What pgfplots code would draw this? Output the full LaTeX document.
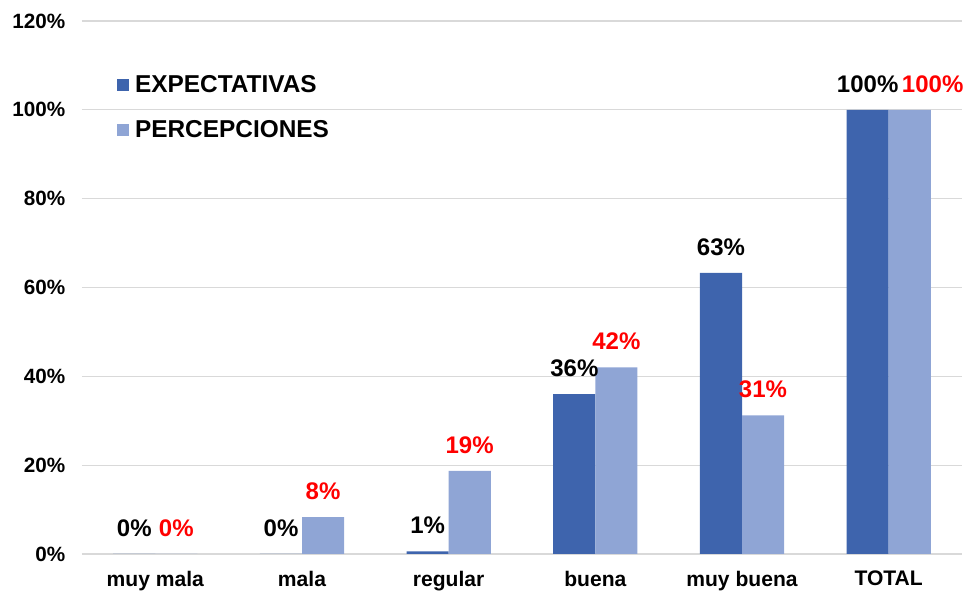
\documentclass[border=0pt]{standalone}
\usepackage{fontspec}
\setmainfont{Liberation Sans}
\usepackage{pgfplots}
\usepackage{pgfplotstable}
\pgfplotsset{compat=1.18}
\definecolor{expc}{HTML}{3E64AD}
\definecolor{perc}{HTML}{8FA5D5}
\definecolor{gridc}{HTML}{D9D9D9}
\definecolor{redlab}{HTML}{FF0000}

\pgfplotstableread{
x y lab sh
0 0 0 -15.75
1 0 0 -15.75
2 0.6 1 -15.75
3 36.0 36 -15.75
4 63.3 63 -15.75
5 100 100 -15.75
}\exptab
\pgfplotstableread{
x y lab sh
0 0 0 15.75
1 8.3 8 15.75
2 18.7 19 15.75
3 42.0 42 15.75
4 31.2 31 15.75
5 100 100 33
}\pertab

\begin{document}
\begin{tikzpicture}
\useasboundingbox (-61.5pt,-27.75pt) rectangle (661.5pt,415.5pt);
\begin{axis}[
  at={(0,0)}, anchor=south west, scale only axis,
  width=660pt, height=399.75pt,
  xmin=-0.5, xmax=5.5, ymin=0, ymax=120,
  xtick={0,...,5},
  xticklabels={muy mala,mala,regular,buena,muy buena,TOTAL},
  ytick={0,20,...,120},
  yticklabels={0\%,20\%,40\%,60\%,80\%,100\%,120\%},
  ymajorgrids, grid style={gridc, line width=0.9pt},
  axis line style={draw=none},
  major tick length=0pt,
  tick label style={font=\bfseries\fontsize{15.5}{17}\selectfont},
  yticklabel style={xshift=-9pt},
  xticklabel style={inner sep=0pt, yshift=-12.5pt, font=\bfseries\fontsize{15.8}{17}\selectfont},
  legend style={at={(0.035,0.909)}, anchor=north west, draw=none, fill=none,
    font=\bfseries\fontsize{18.3}{20}\selectfont, row sep=16pt,
    legend cell align=left,
    nodes={inner xsep=4.5pt}},
  legend image code/.code={\fill (0pt,-4.5pt) rectangle (9pt,4.5pt);},
  point meta=explicit symbolic,
  nodes near coords={\pgfplotspointmeta\%},
  every node near coord/.append style={font=\bfseries\fontsize{18}{20}\selectfont, yshift=9.5pt},
]
\addplot[ybar, bar width=0.287, bar shift=-0.1435, fill=expc, draw=none,
  visualization depends on={\thisrow{sh} \as \sh},
  every node near coord/.append style={text=black, xshift=\sh}]
  table[x=x, y=y, meta=lab] {\exptab};
\addlegendentry{EXPECTATIVAS}
\addplot[ybar, bar width=0.287, bar shift=0.1435, fill=perc, draw=none,
  visualization depends on={\thisrow{sh} \as \sh},
  every node near coord/.append style={text=redlab, xshift=\sh}]
  table[x=x, y=y, meta=lab] {\pertab};
\addlegendentry{PERCEPCIONES}
\end{axis}
\end{tikzpicture}
\end{document}
